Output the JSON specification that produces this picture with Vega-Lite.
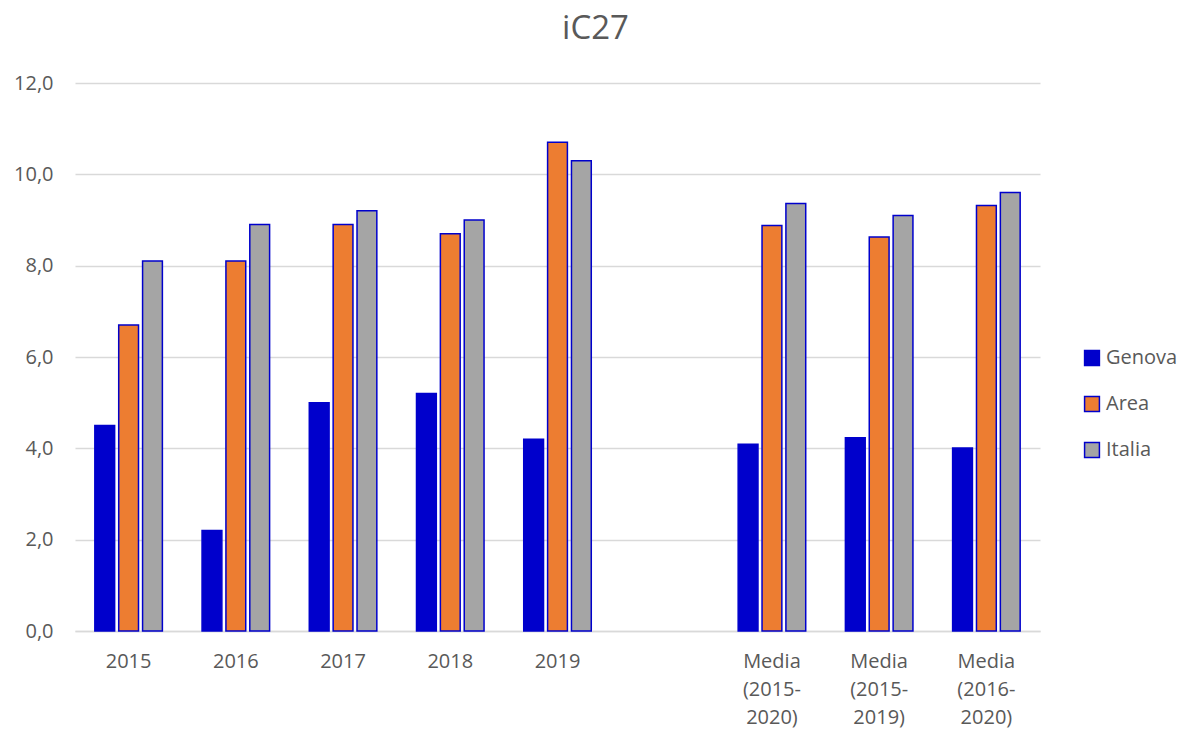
{
  "$schema": "https://vega.github.io/schema/vega-lite/v6.json",
  "width": 965,
  "height": 548,
  "autosize": {"type": "none"},
  "padding": {"left": 75, "top": 83, "right": 145, "bottom": 104},
  "background": "white",
  "title": {"text": "iC27", "fontSize": 33, "font": "Open Sans", "fontWeight": "normal", "color": "#595959", "anchor": "middle", "offset": 27, "dx": 38},
  "config": {"view": {"stroke": null}, "font": "Open Sans"},
  "data": {"values": [
    {"cat": "2015", "serie": "Genova", "v": 4.5},
    {"cat": "2015", "serie": "Area", "v": 6.7},
    {"cat": "2015", "serie": "Italia", "v": 8.1},
    {"cat": "2016", "serie": "Genova", "v": 2.2},
    {"cat": "2016", "serie": "Area", "v": 8.1},
    {"cat": "2016", "serie": "Italia", "v": 8.9},
    {"cat": "2017", "serie": "Genova", "v": 5.0},
    {"cat": "2017", "serie": "Area", "v": 8.9},
    {"cat": "2017", "serie": "Italia", "v": 9.2},
    {"cat": "2018", "serie": "Genova", "v": 5.2},
    {"cat": "2018", "serie": "Area", "v": 8.7},
    {"cat": "2018", "serie": "Italia", "v": 9.0},
    {"cat": "2019", "serie": "Genova", "v": 4.2},
    {"cat": "2019", "serie": "Area", "v": 10.7},
    {"cat": "2019", "serie": "Italia", "v": 10.3},
    {"cat": "Media (2015- 2020)", "serie": "Genova", "v": 4.09},
    {"cat": "Media (2015- 2020)", "serie": "Area", "v": 8.88},
    {"cat": "Media (2015- 2020)", "serie": "Italia", "v": 9.36},
    {"cat": "Media (2015- 2019)", "serie": "Genova", "v": 4.23},
    {"cat": "Media (2015- 2019)", "serie": "Area", "v": 8.63},
    {"cat": "Media (2015- 2019)", "serie": "Italia", "v": 9.1},
    {"cat": "Media (2016- 2020)", "serie": "Genova", "v": 4.01},
    {"cat": "Media (2016- 2020)", "serie": "Area", "v": 9.32},
    {"cat": "Media (2016- 2020)", "serie": "Italia", "v": 9.6}
  ]},
  "mark": {"type": "bar", "stroke": "#0000CC", "strokeWidth": 1.5},
  "encoding": {
    "x": {
      "field": "cat", "type": "nominal",
      "scale": {"domain": ["2015", "2016", "2017", "2018", "2019", " ", "Media (2015- 2020)", "Media (2015- 2019)", "Media (2016- 2020)"], "paddingInner": 0.37, "paddingOuter": 0.185},
      "axis": {
        "title": null, "labelAngle": 0, "ticks": false, "domain": true, "domainColor": "#D9D9D9", "domainWidth": 1.5,
        "labelFontSize": 20, "labelColor": "#595959", "labelPadding": 20, "labelLineHeight": 28, "labelBaseline": "top",
        "labelExpr": "split(datum.label, ' ')"
      }
    },
    "xOffset": {"field": "serie", "type": "nominal", "sort": ["Genova", "Area", "Italia"], "scale": {"paddingInner": 0.17, "paddingOuter": 0}},
    "y": {
      "field": "v", "type": "quantitative",
      "scale": {"domain": [0, 12], "nice": false},
      "axis": {
        "title": null, "values": [0, 2, 4, 6, 8, 10, 12], "ticks": false, "domain": false,
        "gridColor": "#D9D9D9", "gridWidth": 1.5,
        "labelFontSize": 20, "labelColor": "#595959", "labelPadding": 22,
        "labelExpr": "replace(format(datum.value, '.1f'), '.', ',')"
      }
    },
    "color": {
      "field": "serie", "type": "nominal",
      "scale": {"domain": ["Genova", "Area", "Italia"], "range": ["#0000CC", "#ED7D31", "#A5A5A5"]},
      "legend": {
        "title": null, "orient": "none", "legendX": 1007, "legendY": 265,
        "symbolType": "square", "symbolSize": 220, "symbolStrokeColor": "#0000CC", "symbolStrokeWidth": 1.5,
        "labelFontSize": 20, "labelColor": "#595959", "rowPadding": 24, "labelOffset": 4
      }
    }
  }
}
